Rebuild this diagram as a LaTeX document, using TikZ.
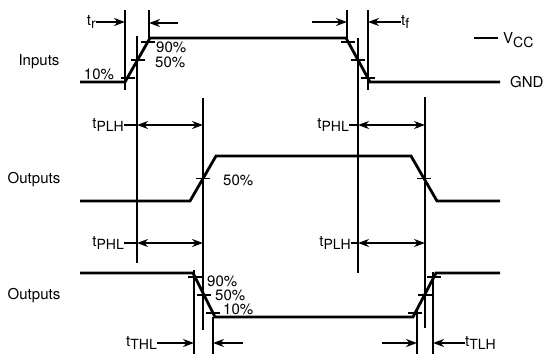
\documentclass[tikz,border=0pt]{standalone}
\usepackage{fontspec}
\setmainfont{TeX Gyre Heros}
\usetikzlibrary{arrows.meta,calc}
\newcommand{\sbs}[1]{\raisebox{-0.5ex}{\fontsize{14}{16}\selectfont #1}}
\begin{document}
\begin{tikzpicture}[x=1pt,y=-1pt,
  wave/.style={line width=2.8pt},
  guide/.style={line width=1.5pt},
  dimarrow/.style={line width=1.4pt,-{Stealth[length=11pt,width=8pt,inset=3.5pt]}},
  dimboth/.style={line width=1.4pt,{Stealth[length=11pt,width=8pt,inset=3.5pt]}-{Stealth[length=11pt,width=8pt,inset=3.5pt]}},
  tickmark/.style={line width=1.9pt},
  lbl/.style={font=\fontsize{15}{17}\selectfont, inner sep=0pt},
]
\useasboundingbox (0,0) rectangle (548,354);

% ---------- waveforms ----------
\coordinate (i0) at (80,82);  \coordinate (i1) at (125,82);
\coordinate (i2) at (150,38); \coordinate (i3) at (346,38);
\coordinate (i4) at (370,82); \coordinate (i5) at (500,82);
\draw[wave] (i0) -- (i1) -- (i2) -- (i3) -- (i4) -- (i5);

\coordinate (a0) at (80,201);  \coordinate (a1) at (190,201);
\coordinate (a2) at (216,156); \coordinate (a3) at (411,156);
\coordinate (a4) at (437,201); \coordinate (a5) at (500,201);
\draw[wave] (a0) -- (a1) -- (a2) -- (a3) -- (a4) -- (a5);

\coordinate (b0) at (80,273);  \coordinate (b1) at (193,273);
\coordinate (b2) at (215,317); \coordinate (b3) at (413,317);
\coordinate (b4) at (436,273); \coordinate (b5) at (500,273);
\draw[wave] (b0) -- (b1) -- (b2) -- (b3) -- (b4) -- (b5);

% ---------- ticks ----------
\foreach \p/\q/\f/\n in {i1/i2/0.1/ir1, i1/i2/0.5/ir5, i1/i2/0.9/ir9,
                         i3/i4/0.1/if9, i3/i4/0.5/if5, i3/i4/0.9/if1,
                         a1/a2/0.5/ar5, a3/a4/0.5/af5,
                         b1/b2/0.1/bf9, b1/b2/0.5/bf5, b1/b2/0.9/bf1,
                         b3/b4/0.1/br1, b3/b4/0.5/br5, b3/b4/0.9/br9}{
  \coordinate (\n) at ($(\p)!\f!(\q)$);
  \draw[tickmark] ([xshift=-7pt]\n) -- ([xshift=7pt]\n);
}

% ---------- guide lines ----------
\foreach \n/\x/\ya/\yb in {g1/125/10/90, g2/149/10/38, g3/137/36/263, g4/203/98/330,
                           g5/347/10/40, g6/368/10/90, g7/358/38/273, g8/425/97/328,
                           g9/194/270/354, g10/213/317/354, g11/417/310/354, g12/433/272/354}{
  \coordinate (\n t) at (\x,\ya);
  \coordinate (\n b) at (\x,\yb);
  \draw[guide] (\n t) -- (\n b);
}

% ---------- row labels ----------
\node[lbl] (inputs) at (39,62) {Inputs};
\node[lbl] (out1) at (34,180) {Outputs};
\node[lbl] (out2) at (34,296) {Outputs};

% ---------- percent labels ----------
\node[lbl, anchor=west] (p90a) at (156,47) {90\%};
\node[lbl, anchor=west] (p50a) at (155,62) {50\%};
\node[lbl] (p10a) at (99,74) {10\%};
\node[lbl, anchor=west] (p50b) at (223,180) {50\%};
\node[lbl, anchor=west] (p90c) at (207,281) {90\%};
\node[lbl, anchor=west] (p50c) at (215,295) {50\%};
\node[lbl, anchor=west] (p10c) at (223,309) {10\%};

% ---------- VCC / GND ----------
\coordinate (vccl) at (474,38);
\coordinate (vccr) at (498,38);
\draw[guide] (vccl) -- (vccr);
\node[lbl, anchor=west] (vcc) at (503,40) {V\sbs{CC}};
\node[lbl, anchor=west] (gnd) at (510,82) {GND};

% ---------- tr / tf ----------
\node[lbl, anchor=east] (tr) at (96,22) {t\sbs{r}};
\draw[dimarrow] (tr.east) -- (tr.east -| g1t);
\coordinate (tra) at (178,23);
\draw[dimarrow] (tra) -- (tra -| g2t);

\node[lbl, anchor=west] (tf) at (401,22) {t\sbs{f}};
\draw[dimarrow] (tf.west) -- (tf.west -| g6t);
\coordinate (tfa) at (312,22);
\draw[dimarrow] (tfa) -- (tfa -| g5t);

% ---------- propagation delays ----------
\node[lbl, anchor=east] (tplh1) at (124,125) {t\sbs{PLH}};
\draw[guide] (tplh1.east) -- (tplh1.east -| g3t);
\draw[dimboth] (tplh1.east -| g3t) -- (tplh1.east -| g4t);

\node[lbl, anchor=east] (tphl1) at (349,125) {t\sbs{PHL}};
\draw[guide] (tphl1.east) -- (tphl1.east -| g7t);
\draw[dimboth] (tphl1.east -| g7t) -- (tphl1.east -| g8t);

\node[lbl, anchor=east] (tphl2) at (124,243) {t\sbs{PHL}};
\draw[guide] (tphl2.east) -- (tphl2.east -| g3t);
\draw[dimboth] (tphl2.east -| g3t) -- (tphl2.east -| g4t);

\node[lbl, anchor=east] (tplh2) at (351,243) {t\sbs{PLH}};
\draw[guide] (tplh2.east) -- (tplh2.east -| g7t);
\draw[dimboth] (tplh2.east -| g7t) -- (tplh2.east -| g8t);

% ---------- transition times ----------
\node[lbl, anchor=east] (tthl) at (157,343) {t\sbs{THL}};
\draw[dimarrow] (tthl.east) -- (tthl.east -| g9t);
\coordinate (tthla) at (243,343);
\draw[dimarrow] (tthla) -- (tthla -| g10t);

\node[lbl, anchor=west] (ttlh) at (465,343) {t\sbs{TLH}};
\draw[dimarrow] (ttlh.west) -- (ttlh.west -| g12t);
\coordinate (ttlha) at (382,343);
\draw[dimarrow] (ttlha) -- (ttlha -| g11t);
\end{tikzpicture}
\end{document}
